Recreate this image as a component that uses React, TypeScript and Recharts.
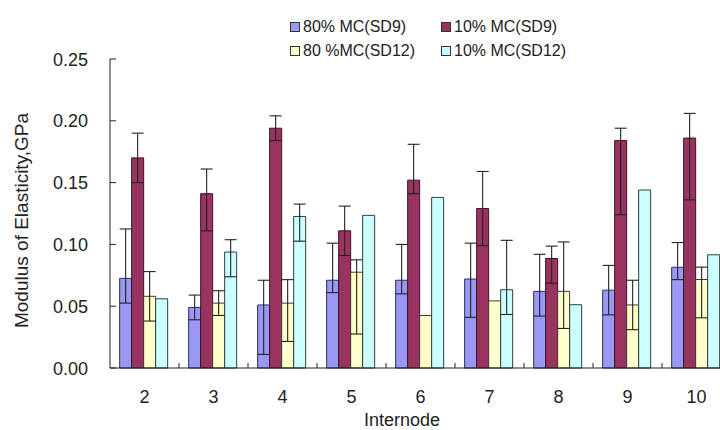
import { BarChart, Bar, XAxis, YAxis, ErrorBar, Legend } from "recharts";

const internodes = ["2", "3", "4", "5", "6", "7", "8", "9", "10"];

const mc80sd9 = [0.0725, 0.049, 0.051, 0.071, 0.071, 0.072, 0.062, 0.063, 0.0815];
const mc10sd9 = [0.17, 0.141, 0.194, 0.111, 0.152, 0.129, 0.0886, 0.184, 0.186];
const mc80sd12 = [0.058, 0.0525, 0.0525, 0.0775, 0.0425, 0.0543, 0.062, 0.051, 0.0716];
const mc10sd12 = [0.056, 0.0938, 0.1226, 0.1235, 0.138, 0.0633, 0.0512, 0.144, 0.0916];

// [down, up]
const err80sd9 = [[0.02, 0.04], [0.01, 0.01], [0.04, 0.02], [0.01, 0.03], [0.011, 0.029], [0.031, 0.029], [0.02, 0.03], [0.02, 0.02], [0.01, 0.02]];
const err10sd9 = [[0.02, 0.02], [0.03, 0.02], [0.01, 0.01], [0.02, 0.02], [0.011, 0.029], [0.03, 0.03], [0.02, 0.01], [0.06, 0.01], [0.05, 0.02]];
const err80sd12 = [[0.02, 0.02], [0.01, 0.01], [0.031, 0.019], [0.05, 0.01], null, null, [0.03, 0.04], [0.02, 0.02], [0.031, 0.01]];
const err10sd12 = [null, [0.02, 0.01], [0.02, 0.01], null, null, [0.02, 0.04], null, null, null];

const yTicks = [0, 0.05, 0.1, 0.15, 0.2, 0.25];

const series = [
  { key: "a", name: "80% MC(SD9)", fill: "#9999f5", stroke: "#2e2e55" },
  { key: "b", name: "10% MC(SD9)", fill: "#993360", stroke: "#3a1426" },
  { key: "c", name: "80 %MC(SD12)", fill: "#ffffcc", stroke: "#3a3a30" },
  { key: "d", name: "10% MC(SD12)", fill: "#ccffff", stroke: "#2a4040" },
];

const data = internodes.map((n, i) => ({
  name: n,
  a: mc80sd9[i],
  b: mc10sd9[i],
  c: mc80sd12[i],
  d: mc10sd12[i],
  ea: err80sd9[i],
  eb: err10sd9[i],
  ec: err80sd12[i],
  ed: err10sd12[i],
}));

const font = "'Liberation Sans', Arial, sans-serif";

const YTick = (props: any) => {
  const { x, y, payload } = props;
  return (
    <g>
      <line x1={x} y1={y} x2={x + 6} y2={y} stroke="#222" />
      <text x={x - 22} y={y + 6.5} textAnchor="end" fontSize={18} fill="#222" fontFamily={font}>
        {Number(payload.value).toFixed(2)}
      </text>
    </g>
  );
};

const XTick = (props: any) => {
  const { x, y, payload, width, visibleTicksCount } = props;
  const band = width / visibleTicksCount;
  return (
    <g>
      <line x1={x + band / 2} y1={y} x2={x + band / 2} y2={y - 5} stroke="#222" />
      <text x={x} y={y + 35} textAnchor="middle" fontSize={18} fill="#222" fontFamily={font}>
        {payload.value}
      </text>
    </g>
  );
};

const LegendBox = () => (
  <div
    style={{
      display: "grid",
      gridTemplateColumns: "151px 151px",
      rowGap: 5,
      fontFamily: font,
      fontSize: 16,
      color: "#222",
    }}
  >
    {series.map((s) => (
      <div key={s.key} style={{ display: "flex", alignItems: "center", height: 19, whiteSpace: "nowrap" }}>
        <span
          style={{
            display: "inline-block",
            width: 8,
            height: 8,
            background: s.fill,
            border: "1px solid #333",
            marginRight: 3,
          }}
        />
        {s.name}
      </div>
    ))}
  </div>
);

export default function App() {
  return (
    <div
      style={{
        position: "absolute",
        left: 0,
        top: 0,
        width: 720,
        height: 430,
        overflow: "hidden",
        background: "#fff",
      }}
    >
      <BarChart
        width={745}
        height={430}
        data={data}
        margin={{ top: 16, right: 14, left: 0, bottom: 0 }}
        barCategoryGap="14%"
        barGap={0}
      >
        <YAxis
          width={110}
          domain={[0, 0.25]}
          ticks={yTicks}
          interval={0}
          tickSize={0}
          tickMargin={0}
          tick={<YTick />}
          axisLine={{ stroke: "#222" }}
          label={{
            content: (p: any) => {
              const vb = p.viewBox;
              const cx = 21;
              const cy = vb.y + vb.height / 2 + 7;
              return (
                <text
                  x={cx}
                  y={cy}
                  transform={`rotate(-90, ${cx}, ${cy})`}
                  textAnchor="middle"
                  dominantBaseline="central"
                  fontSize={19}
                  fill="#222"
                  fontFamily={font}
                >
                  Modulus of Elasticity,GPa
                </text>
              );
            },
          }}
        />
        <XAxis
          dataKey="name"
          height={62}
          interval={0}
          tickSize={0}
          tickMargin={0}
          tick={<XTick />}
          axisLine={{ stroke: "#222" }}
          label={{
            content: () => (
              <text x={402} y={426} textAnchor="middle" fontSize={18} fill="#222" fontFamily={font}>
                Internode
              </text>
            ),
          }}
        />
        <Legend
          verticalAlign="top"
          content={<LegendBox />}
          wrapperStyle={{ position: "absolute", top: 17, left: 290, width: 310 }}
        />
        {series.map((s) => (
          <Bar
            key={s.key}
            dataKey={s.key}
            name={s.name}
            fill={s.fill}
            stroke={s.stroke}
            strokeWidth={1}
            isAnimationActive={false}
          >
            <ErrorBar dataKey={"e" + s.key} width={6} stroke="#222" strokeWidth={1.1} />
          </Bar>
        ))}
      </BarChart>
    </div>
  );
}
